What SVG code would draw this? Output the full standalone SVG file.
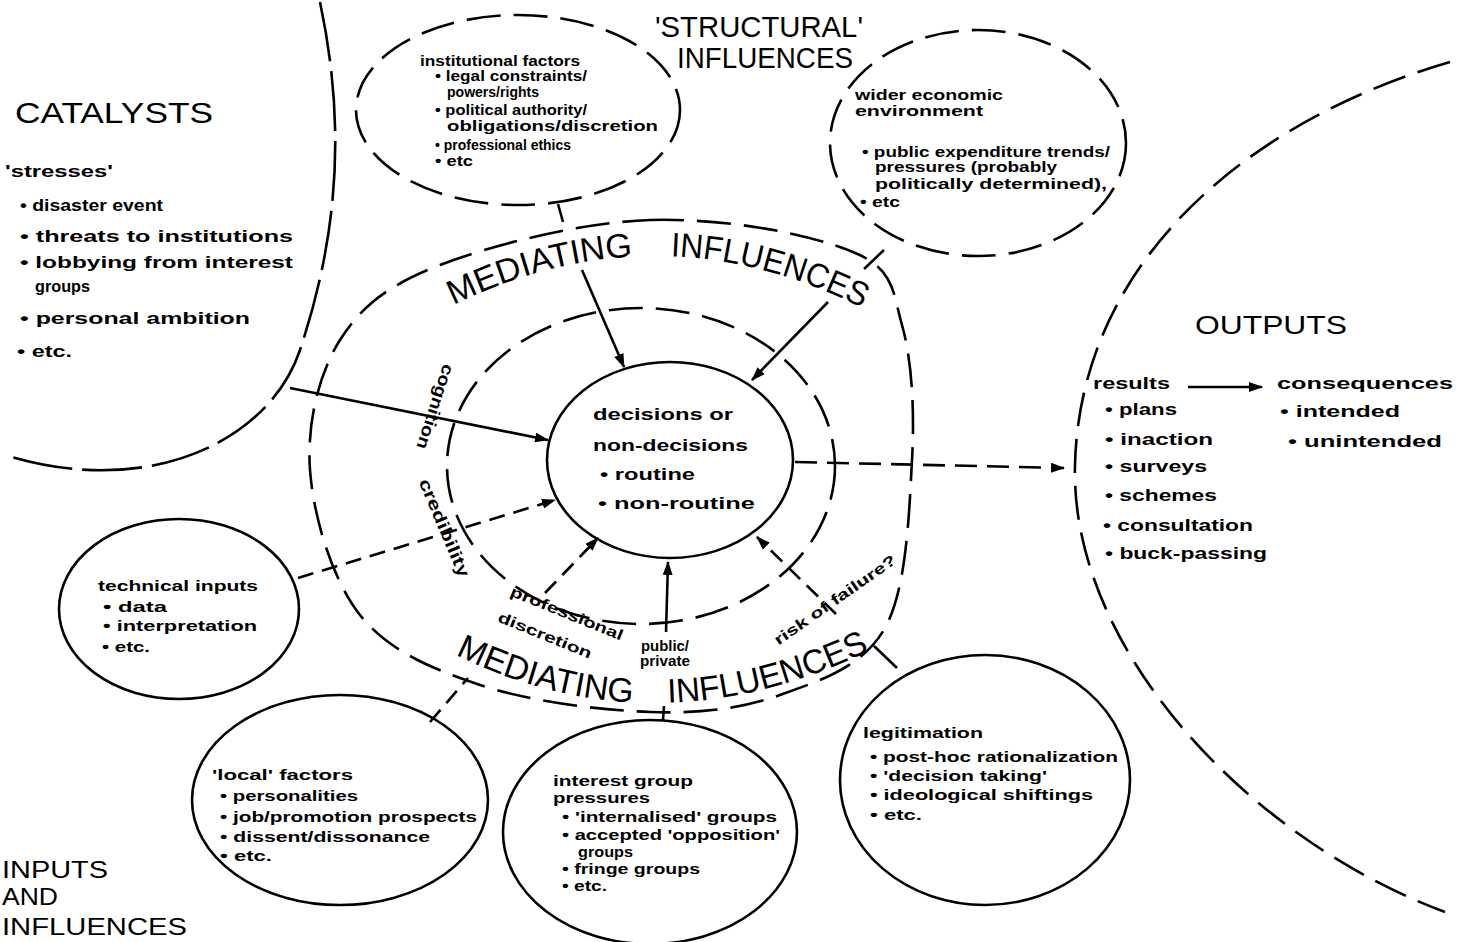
<svg xmlns="http://www.w3.org/2000/svg" width="1458" height="942" viewBox="0 0 1458 942">
<style>
.sol{fill:none;stroke:#000;stroke-width:2.6}
.dl{fill:none;stroke:#000;stroke-width:2.6;stroke-dasharray:34 13}
.dc{fill:none;stroke:#000;stroke-width:2.6;stroke-dasharray:16 9}
.bd{fill:none;stroke:#000;stroke-width:2.6;stroke-dasharray:60 10}
.ln{fill:none;stroke:#000;stroke-width:2.6}
text{font-family:"Liberation Sans",Arial,sans-serif;fill:#000}
.h{font-size:30px}
.t{font-size:15px;font-weight:bold}
.m{font-size:17px;font-weight:bold}
.big{font-size:34px}
</style>
<defs>
<marker id="ah" viewBox="0 0 14 10" refX="13" refY="5" markerWidth="14" markerHeight="10" markerUnits="userSpaceOnUse" orient="auto"><path d="M0,0 L14,5 L0,10 z" fill="#000"/></marker>
<path id="arcTop" d="M440,312 Q655,200 870,312"/>
<path id="arcBot" d="M450,652 Q655,756 875,648"/>
</defs>
<rect width="1458" height="942" fill="#fff"/>

<g id="catalysts">
<path class="bd" d="M320,2 C345,120 340,230 300,350 C270,440 150,500 5,455"/>
<text class="h" x="15" y="123" textLength="198" lengthAdjust="spacingAndGlyphs">CATALYSTS</text>
<text class="m" x="5" y="177" textLength="108" lengthAdjust="spacingAndGlyphs">'stresses'</text>
<text class="m" x="20" y="211" textLength="143" lengthAdjust="spacingAndGlyphs">• disaster event</text>
<text class="m" x="20" y="242" textLength="273" lengthAdjust="spacingAndGlyphs">• threats to institutions</text>
<text class="m" x="20" y="268" textLength="273" lengthAdjust="spacingAndGlyphs">• lobbying from interest</text>
<text class="m" x="35" y="292" textLength="55" lengthAdjust="spacingAndGlyphs">groups</text>
<text class="m" x="20" y="324" textLength="230" lengthAdjust="spacingAndGlyphs">• personal ambition</text>
<text class="m" x="17" y="357" textLength="55" lengthAdjust="spacingAndGlyphs">• etc.</text>
</g>

<g id="structural">
<text class="h" x="655" y="37" textLength="208" lengthAdjust="spacingAndGlyphs">'STRUCTURAL'</text>
<text class="h" x="677" y="68" textLength="176" lengthAdjust="spacingAndGlyphs">INFLUENCES</text>
</g>

<g id="institutional">
<ellipse class="dl" cx="518" cy="110" rx="162" ry="95"/>
<text class="t" x="420" y="66" textLength="160" lengthAdjust="spacingAndGlyphs">institutional factors</text>
<text class="t" x="435" y="81" textLength="152" lengthAdjust="spacingAndGlyphs">• legal constraints/</text>
<text class="t" x="447" y="97" textLength="92" lengthAdjust="spacingAndGlyphs">powers/rights</text>
<text class="t" x="435" y="115" textLength="152" lengthAdjust="spacingAndGlyphs">• political authority/</text>
<text class="t" x="447" y="131" textLength="211" lengthAdjust="spacingAndGlyphs">obligations/discretion</text>
<text class="t" x="435" y="150" textLength="136" lengthAdjust="spacingAndGlyphs">• professional ethics</text>
<text class="t" x="435" y="166" textLength="38" lengthAdjust="spacingAndGlyphs">• etc</text>
</g>

<g id="economic">
<ellipse class="dl" cx="978" cy="143" rx="148" ry="113"/>
<text class="t" x="855" y="100" textLength="148" lengthAdjust="spacingAndGlyphs">wider economic</text>
<text class="t" x="855" y="116" textLength="128" lengthAdjust="spacingAndGlyphs">environment</text>
<text class="t" x="862" y="157" textLength="248" lengthAdjust="spacingAndGlyphs">• public expenditure trends/</text>
<text class="t" x="875" y="172" textLength="182" lengthAdjust="spacingAndGlyphs">pressures (probably</text>
<text class="t" x="875" y="189" textLength="232" lengthAdjust="spacingAndGlyphs">politically determined),</text>
<text class="t" x="860" y="207" textLength="40" lengthAdjust="spacingAndGlyphs">• etc</text>
</g>

<g id="mediating">
<path class="dl" d="M650,220 C720,218 805,232 853,252 C895,269.5 892.2,290.3 902,325 C911.8,359.7 914.8,409.5 912,460 C909.2,510.5 907,588.8 885,628 C863,667.2 819.2,681 780,695 C740.8,709 700,713.7 650,712 C600,710.3 528.3,701.2 480,685 C431.7,668.8 388.3,650.8 360,615 C331.7,579.2 313.3,515.8 310,470 C306.7,424.2 318.3,374.2 340,340 C361.7,305.8 388.3,285 440,265 C491.7,245 581.2,222.2 650,220 Z"/>
<ellipse class="dl" cx="641" cy="466" rx="194" ry="158"/>
<text class="big"><textPath href="#arcTop" startOffset="15" textLength="187" lengthAdjust="spacingAndGlyphs">MEDIATING</textPath></text>
<text class="big"><textPath href="#arcTop" startOffset="240" textLength="200" lengthAdjust="spacingAndGlyphs">INFLUENCES</textPath></text>
<text class="big"><textPath href="#arcBot" startOffset="6" textLength="185" lengthAdjust="spacingAndGlyphs">MEDIATING</textPath></text>
<text class="big"><textPath href="#arcBot" startOffset="226" textLength="210" lengthAdjust="spacingAndGlyphs">INFLUENCES</textPath></text>
<text class="m" text-anchor="middle" transform="translate(430,405) rotate(108)" textLength="88" lengthAdjust="spacingAndGlyphs">cognition</text>
<text class="m" text-anchor="middle" transform="translate(439,530) rotate(67)" textLength="105" lengthAdjust="spacingAndGlyphs">credibility</text>
<text class="t" text-anchor="middle" transform="translate(565,618) rotate(22)" textLength="120" lengthAdjust="spacingAndGlyphs">professional</text>
<text class="t" text-anchor="middle" transform="translate(543,640) rotate(22)" textLength="100" lengthAdjust="spacingAndGlyphs">discretion</text>
<text class="t" x="641" y="651" textLength="48" lengthAdjust="spacingAndGlyphs">public/</text>
<text class="t" x="640" y="666" textLength="50" lengthAdjust="spacingAndGlyphs">private</text>
<text class="t" text-anchor="middle" transform="translate(838,604) rotate(-35)" textLength="145" lengthAdjust="spacingAndGlyphs">risk of failure?</text>
</g>

<g id="decisions">
<ellipse class="sol" cx="670" cy="460" rx="123" ry="98"/>
<text class="m" x="593" y="420" textLength="140" lengthAdjust="spacingAndGlyphs">decisions or</text>
<text class="m" x="593" y="451" textLength="155" lengthAdjust="spacingAndGlyphs">non-decisions</text>
<text class="m" x="600" y="480" textLength="95" lengthAdjust="spacingAndGlyphs">• routine</text>
<text class="m" x="598" y="509" textLength="157" lengthAdjust="spacingAndGlyphs">• non-routine</text>
</g>

<g id="technical">
<ellipse class="sol" cx="179" cy="609" rx="120" ry="90"/>
<text class="t" x="98" y="591" textLength="160" lengthAdjust="spacingAndGlyphs">technical inputs</text>
<text class="t" x="103" y="612" textLength="64" lengthAdjust="spacingAndGlyphs">• data</text>
<text class="t" x="103" y="631" textLength="154" lengthAdjust="spacingAndGlyphs">• interpretation</text>
<text class="t" x="102" y="652" textLength="48" lengthAdjust="spacingAndGlyphs">• etc.</text>
</g>

<g id="local">
<ellipse class="sol" cx="340" cy="800" rx="148" ry="105"/>
<text class="t" x="212" y="780" textLength="141" lengthAdjust="spacingAndGlyphs">'local' factors</text>
<text class="t" x="220" y="801" textLength="138" lengthAdjust="spacingAndGlyphs">• personalities</text>
<text class="t" x="220" y="822" textLength="257" lengthAdjust="spacingAndGlyphs">• job/promotion prospects</text>
<text class="t" x="220" y="842" textLength="210" lengthAdjust="spacingAndGlyphs">• dissent/dissonance</text>
<text class="t" x="220" y="861" textLength="52" lengthAdjust="spacingAndGlyphs">• etc.</text>
</g>

<g id="interest">
<ellipse class="sol" cx="650" cy="832" rx="147" ry="112"/>
<text class="t" x="553" y="786" textLength="140" lengthAdjust="spacingAndGlyphs">interest group</text>
<text class="t" x="553" y="803" textLength="97" lengthAdjust="spacingAndGlyphs">pressures</text>
<text class="t" x="562" y="822" textLength="215" lengthAdjust="spacingAndGlyphs">• 'internalised' groups</text>
<text class="t" x="562" y="840" textLength="218" lengthAdjust="spacingAndGlyphs">• accepted 'opposition'</text>
<text class="t" x="578" y="857" textLength="55" lengthAdjust="spacingAndGlyphs">groups</text>
<text class="t" x="562" y="874" textLength="138" lengthAdjust="spacingAndGlyphs">• fringe groups</text>
<text class="t" x="562" y="891" textLength="45" lengthAdjust="spacingAndGlyphs">• etc.</text>
</g>

<g id="legitimation">
<ellipse class="sol" cx="985" cy="780" rx="145" ry="125"/>
<text class="t" x="863" y="738" textLength="120" lengthAdjust="spacingAndGlyphs">legitimation</text>
<text class="t" x="870" y="762" textLength="248" lengthAdjust="spacingAndGlyphs">• post-hoc rationalization</text>
<text class="t" x="870" y="781" textLength="177" lengthAdjust="spacingAndGlyphs">• 'decision taking'</text>
<text class="t" x="870" y="800" textLength="223" lengthAdjust="spacingAndGlyphs">• ideological shiftings</text>
<text class="t" x="870" y="820" textLength="52" lengthAdjust="spacingAndGlyphs">• etc.</text>
</g>

<g id="outputs">
<path class="dl" d="M1450,62 C1250,120 1080,260 1075,465 C1070,650 1250,840 1445,912"/>
<text class="h" x="1195" y="334" textLength="152" lengthAdjust="spacingAndGlyphs" style="font-size:26px">OUTPUTS</text>
<text class="m" x="1093" y="389" textLength="77" lengthAdjust="spacingAndGlyphs">results</text>
<text class="m" x="1277" y="389" textLength="176" lengthAdjust="spacingAndGlyphs">consequences</text>
<text class="m" x="1105" y="415" textLength="72" lengthAdjust="spacingAndGlyphs">• plans</text>
<text class="m" x="1105" y="445" textLength="108" lengthAdjust="spacingAndGlyphs">• inaction</text>
<text class="m" x="1105" y="472" textLength="102" lengthAdjust="spacingAndGlyphs">• surveys</text>
<text class="m" x="1105" y="501" textLength="112" lengthAdjust="spacingAndGlyphs">• schemes</text>
<text class="m" x="1103" y="531" textLength="150" lengthAdjust="spacingAndGlyphs">• consultation</text>
<text class="m" x="1105" y="559" textLength="162" lengthAdjust="spacingAndGlyphs">• buck-passing</text>
<text class="m" x="1280" y="417" textLength="120" lengthAdjust="spacingAndGlyphs">• intended</text>
<text class="m" x="1288" y="447" textLength="154" lengthAdjust="spacingAndGlyphs">• unintended</text>
</g>

<g id="inputs">
<text class="h" x="2" y="878" textLength="106" lengthAdjust="spacingAndGlyphs" style="font-size:24px">INPUTS</text>
<text class="h" x="2" y="905" textLength="56" lengthAdjust="spacingAndGlyphs" style="font-size:24px">AND</text>
<text class="h" x="2" y="935" textLength="185" lengthAdjust="spacingAndGlyphs" style="font-size:24px">INFLUENCES</text>
</g>

<g id="connectors">
<line class="ln" x1="290" y1="388" x2="548" y2="440" marker-end="url(#ah)"/>
<line class="dc" x1="298" y1="578" x2="555" y2="500" marker-end="url(#ah)"/>
<line class="dc" x1="430" y1="722" x2="468" y2="678"/>
<line class="dc" x1="545" y1="593" x2="598" y2="538" marker-end="url(#ah)"/>
<line class="ln" x1="663" y1="720" x2="664" y2="706"/>
<line class="ln" x1="666" y1="632" x2="668" y2="562" marker-end="url(#ah)"/>
<line class="ln" x1="874" y1="646" x2="897" y2="668"/>
<line class="dc" x1="836" y1="614" x2="757" y2="537" marker-end="url(#ah)"/>
<line class="ln" x1="558" y1="204" x2="563" y2="222"/>
<line class="ln" x1="582" y1="270" x2="624" y2="367" marker-end="url(#ah)"/>
<line class="ln" x1="884" y1="250" x2="864" y2="269"/>
<line class="ln" x1="828" y1="302" x2="752" y2="380" marker-end="url(#ah)"/>
<line class="dc" x1="795" y1="462" x2="1064" y2="468" style="stroke-dasharray:22 10" marker-end="url(#ah)"/>
<line class="ln" x1="1188" y1="387" x2="1262" y2="387" marker-end="url(#ah)"/>
</g>
</svg>
